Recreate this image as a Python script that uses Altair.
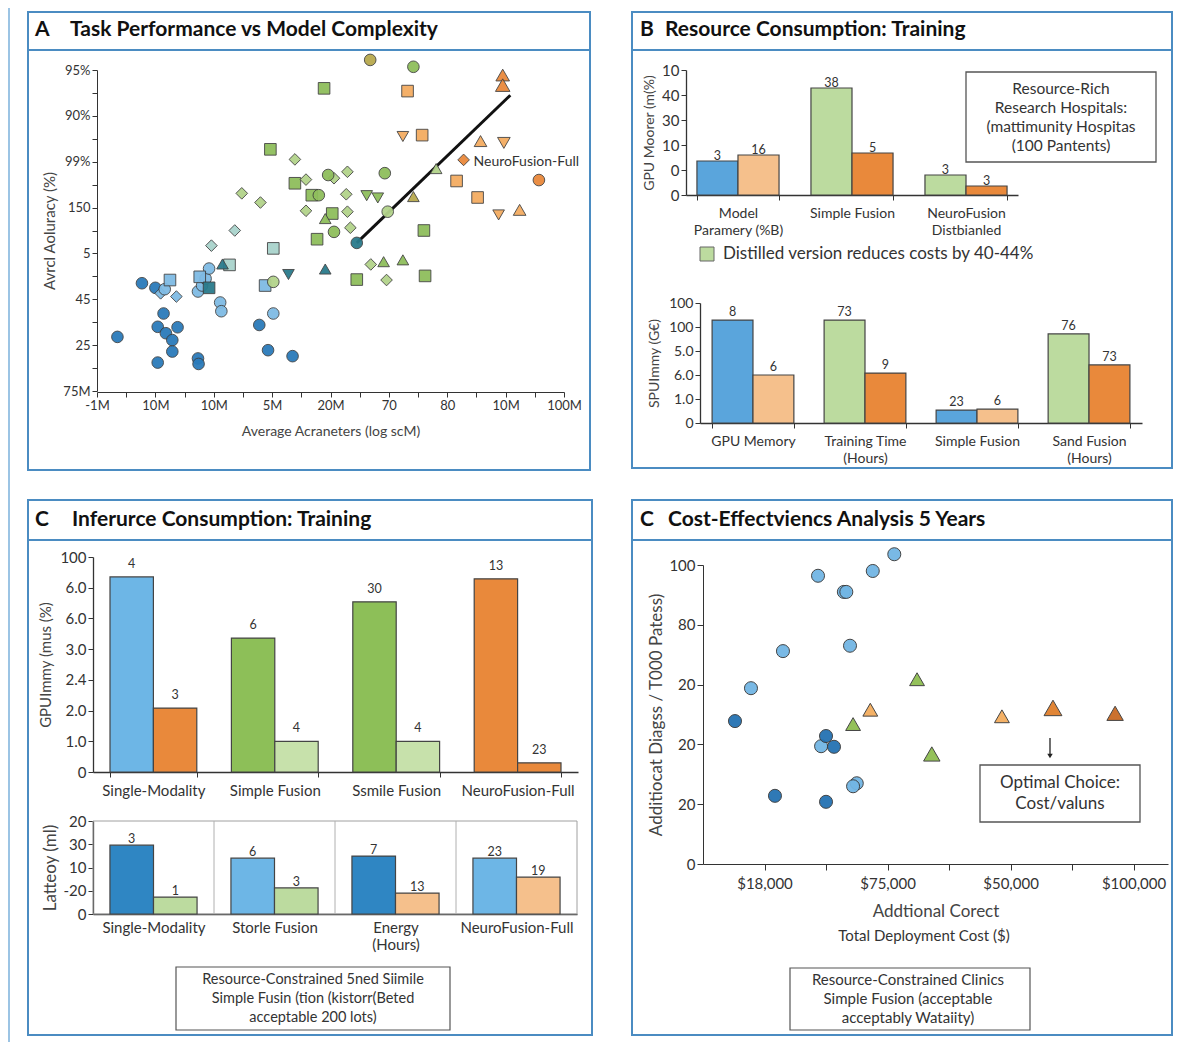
import altair as alt
import pandas as pd

W, H = 1166, 1034
FONT = "Lato"
INK = "#333333"
FRAME = "#4b8cc2"


def P(v):
    """page pixel -> chart pixel (8px page margin)"""
    return v - 8


one = pd.DataFrame({"k": [0]})

# ---------------- Panel A data ----------------
a_x = [0.35, 0.77, 1.00, 1.04, 1.14, 1.04, 1.18, 1.29, 1.38, 1.29, 1.73, 1.74, 2.78, 2.93, 3.35,
       1.09, 1.36, 1.16, 1.25, 1.73, 1.80, 1.86, 1.92, 2.11, 2.13, 3.02, 1.76, 2.88,
       3.02, 2.27, 1.96, 2.36, 3.02,
       1.92, 2.15, 3.91, 3.28, 4.45,
       3.89, 2.97, 3.39, 3.68, 3.77, 4.03, 4.45, 5.60, 5.62,
       3.39, 3.58, 3.58, 4.29, 4.27, 4.29, 4.34, 4.69, 4.96, 4.06, 2.48, 2.80,
       3.96, 4.06, 4.93, 4.98, 3.80, 5.42, 4.68,
       4.62, 4.81, 3.91, 4.91, 5.24, 5.81, 5.42,
       5.32, 5.57, 6.16, 6.52, 5.24, 6.88, 6.97, 6.95, 6.95, 6.57, 7.24, 6.28, 7.57]
a_y = [1.18, 2.35, 2.25, 1.40, 1.69, 0.62, 1.26, 1.11, 1.39, 0.86, 0.71, 0.59, 1.44, 0.89, 0.76,
       2.13, 2.06, 2.22, 2.42, 2.17, 2.30, 2.45, 2.67, 1.93, 1.74, 1.69, 2.49, 2.30,
       3.11, 2.75, 3.17, 3.50, 2.38,
       2.25, 2.77, 2.66, 2.54, 3.23,
       6.60, 5.27, 4.53, 4.27, 3.31, 3.87, 2.43, 3.50, 2.51,
       5.05, 4.61, 3.93, 4.78, 4.29, 3.91, 3.56, 2.76, 2.42, 4.64, 4.31, 4.11,
       4.71, 3.47, 4.75, 3.91, 4.27, 7.07, 7.22,
       4.26, 4.21, 3.76, 2.82, 2.86, 4.85, 4.24,
       6.54, 5.58, 4.58, 4.22, 5.55, 3.84, 5.41, 6.89, 6.67, 5.45, 3.95, 5.04, 4.60]
a_grp = ["db"] * 15 + \
        ["lb"] * 13 + \
        ["pt", "pt", "pt", "pt", "lg"] + \
        ["tl"] * 5 + \
        ["gr"] * 9 + \
        ["lg"] * 12 + \
        ["gr", "gr", "gr", "lg", "gr", "gr", "ol"] + \
        ["gr", "gr", "gr", "gr", "gr", "lg", "ol"] + \
        ["lo", "lo", "lo", "lo", "lo", "lo", "lo", "or", "or", "lo", "lo", "or", "or"]
a_shp = ["circle"] * 15 + \
        ["diamond", "diamond", "circle", "square", "circle", "circle", "circle", "circle",
         "circle", "circle", "circle", "square", "square"] + \
        ["square", "square", "diamond", "diamond", "circle"] + \
        ["square", "triangle-up", "triangle-up", "triangle-down", "circle"] + \
        ["square"] * 9 + \
        ["diamond"] * 12 + \
        ["circle"] * 7 + \
        ["triangle-down", "triangle-down", "triangle-up", "triangle-up", "triangle-up",
         "triangle-up", "triangle-up"] + \
        ["square", "square", "square", "square", "triangle-down", "triangle-down", "triangle-down",
         "triangle-up", "triangle-up", "triangle-up", "triangle-up", "diamond", "circle"]
a_sz = ["n"] * 79 + ["m", "l", "xl", "m", "m", "n", "n"]
a_line_x = [4.45, 7.08]
a_line_y = [3.23, 6.45]
a_lab_x = [6.45]
a_lab_y = [5.0]
a_lab_t = ["NeuroFusion-Full"]
a_xlabels = ["-1M", "10M", "10M", "5M", "20M", "70", "80", "10M", "100M"]
a_ylabels = ["75M", "25", "45", "5", "150", "99%", "90%", "95%"]

A_GROUPS = ["db", "lb", "pt", "tl", "gr", "lg", "ol", "lo", "or"]
A_COLORS = ["#2b7bba", "#7fbbe4", "#a9d3cc", "#2a7b8c", "#8fbe5c", "#b3d38b", "#b8a94e", "#f4ac62", "#e9893c"]
SHAPES = ["circle", "square", "diamond", "triangle-up", "triangle-down"]

# ---------------- Panel B data ----------------
b1_cats = ["Model|Paramery (%B)", "Simple Fusion", "NeuroFusion|Distbianled"]
b1_v1 = [1.36, 4.28, 0.80]
b1_v2 = [1.60, 1.68, 0.36]
b1_c1 = ["blue", "lgreen", "lgreen"]
b1_c2 = ["lorange", "orange", "orange"]
b1_t1 = ["3", "38", "3"]
b1_t2 = ["16", "5", "3"]
b1_ylabels = ["0", "0", "10", "30", "40", "10"]

b2_cats = ["GPU Memory", "Training Time|(Hours)", "Simple Fusion", "Sand Fusion|(Hours)"]
b2_v1 = [4.29, 4.29, 0.54, 3.71]
b2_v2 = [2.00, 2.08, 0.58, 2.42]
b2_c1 = ["blue", "lgreen", "blue", "lgreen"]
b2_c2 = ["lorange", "orange", "lorange", "orange"]
b2_t1 = ["8", "73", "23", "76"]
b2_t2 = ["6", "9", "6", "73"]
b2_ylabels = ["0", "1.0", "6.0", "5.0", "100", "100"]

# ---------------- Panel C data ----------------
c1_cats = ["Single-Modality", "Simple Fusion", "Ssmile Fusion", "NeuroFusion-Full"]
c1_v1 = [6.35, 4.36, 5.54, 6.29]
c1_v2 = [2.08, 1.00, 1.00, 0.30]
c1_c1 = ["lblue", "green", "green", "orange"]
c1_c2 = ["orange", "plgreen", "plgreen", "orange"]
c1_t1 = ["4", "6", "30", "13"]
c1_t2 = ["3", "4", "4", "23"]
c1_ylabels = ["0", "1.0", "2.0", "2.4", "3.0", "6.0", "6.0", "100"]

c2_cats = ["Single-Modality", "Storle Fusion", "Energy|(Hours)", "NeuroFusion-Full"]
c2_v1 = [2.96, 2.40, 2.49, 2.40]
c2_v2 = [0.73, 1.12, 0.90, 1.59]
c2_c1 = ["dblue", "lblue", "dblue", "lblue"]
c2_c2 = ["lgreen", "lgreen", "lorange", "lorange"]
c2_t1 = ["3", "6", "7", "23"]
c2_t2 = ["1", "3", "13", "19"]
c2_ylabels = ["0", "-20", "10", "30", "20"]

# ---------------- Panel D data ----------------
d_x = [1.87, 2.29, 2.33, 2.76, 3.11, 2.39, 1.30, 0.78, 1.92, 2.50, 2.44,
       0.52, 2.00, 2.13, 1.17, 2.00,
       3.48, 2.44, 3.72, 2.72, 4.86, 5.69, 6.70]
d_y = [4.82, 4.55, 4.55, 4.90, 5.18, 3.65, 3.56, 2.94, 1.97, 1.35, 1.30,
       2.39, 2.14, 1.96, 1.14, 1.04,
       3.09, 2.34, 1.84, 2.58, 2.47, 2.61, 2.52]
d_grp = ["lb"] * 11 + ["db"] * 5 + ["gr", "gr", "gr", "lo", "lo", "or", "do"]
d_shp = ["circle"] * 16 + ["triangle-up"] * 7
d_sz = ["n"] * 16 + ["m", "m", "l", "m", "m", "xl", "l"]
d_xlabels = ["$18,000", "$75,000", "$50,000", "$100,000"]
d_ylabels = ["0", "20", "20", "20", "80", "100"]
D_GROUPS = ["lb", "db", "gr", "lo", "or", "do"]
D_COLORS = ["#72b6e4", "#2472b3", "#8fbe52", "#f4ad5e", "#e07f2c", "#c96a24"]

PAL = {"blue": "#5aa5dc", "lorange": "#f5c08c", "lgreen": "#bcdb9f", "orange": "#e9893b",
       "green": "#8dbf58", "plgreen": "#c7e1ab", "lblue": "#6db6e6", "dblue": "#2f86c3"}


def js_arr(items):
    return "[" + ",".join("'" + s + "'" for s in items) + "]"


# ---------------- helpers for decorations ----------------
def rect(x0, y0, x1, y1, stroke, sw, fill="white", fo=1.0):
    return alt.Chart(one).mark_rect(stroke=stroke, strokeWidth=sw, fill=fill, fillOpacity=fo).encode(
        x=alt.value(P(x0)), x2=alt.value(P(x1)), y=alt.value(P(y0)), y2=alt.value(P(y1)))


def hrule(x0, x1, y, color, sw):
    return alt.Chart(one).mark_rule(color=color, strokeWidth=sw).encode(
        x=alt.value(P(x0)), x2=alt.value(P(x1)), y=alt.value(P(y)))


def vrule(x, y0, y1, color, sw):
    return alt.Chart(one).mark_rule(color=color, strokeWidth=sw).encode(
        x=alt.value(P(x)), y=alt.value(P(y0)), y2=alt.value(P(y1)))


def text(x, y, s, size, align="left", weight="normal", color=INK, lh=None):
    kw = dict(align=align, baseline="middle", fontSize=size, font=FONT, fontWeight=weight, color=color)
    if lh is not None:
        kw["lineHeight"] = lh
    return alt.Chart(one).mark_text(**kw).encode(x=alt.value(P(x)), y=alt.value(P(y)), text=alt.value(s))


# ---------------- bar-chart builder ----------------
def bar_chart(cats, v1, v2, c1, c2, t1, t2, ylabels, xr, yr, pad_in, pad_out,
              ytitle, ypad, ytsize, xlab_size, ylab_size, lab_dy, ticks=True):
    n = len(cats)
    df = pd.DataFrame({"cat": cats + cats, "ser": ["a"] * n + ["b"] * n,
                       "val": v1 + v2, "role": c1 + c2, "txt": t1 + t2})
    roles = sorted(set(c1 + c2))
    X = alt.X("cat:N", sort=cats, title=None,
              scale=alt.Scale(range=[P(xr[0]), P(xr[1])], paddingInner=pad_in, paddingOuter=pad_out),
              axis=alt.Axis(orient="bottom", offset=P(yr[0]) - H, labelAngle=0,
                            labelExpr="isValid(datum.value) ? split(datum.value, '|') : ''",
                            labelFontSize=xlab_size,
                            labelLineHeight=17, labelPadding=6, ticks=ticks, tickBand="extent",
                            tickSize=5, domainWidth=1.3))
    Y = alt.Y("val:Q", title=ytitle,
              scale=alt.Scale(domain=[0, len(ylabels) - 1], range=[P(yr[0]), P(yr[1])], nice=False, zero=True),
              axis=alt.Axis(orient="left", offset=-P(xr[0]), values=list(range(len(ylabels))),
                            labelExpr=js_arr(ylabels) + "[datum.value]", labelFontSize=ylab_size,
                            titleFontSize=ytsize, titlePadding=ypad, tickSize=5, domainWidth=1.3))
    XO = alt.XOffset("ser:N", scale=alt.Scale(paddingInner=0, paddingOuter=0))
    C = alt.Color("role:N", scale=alt.Scale(domain=roles, range=[PAL[r] for r in roles]), legend=None)
    bars = alt.Chart(df).mark_bar(stroke="#444444", strokeWidth=1.2).encode(x=X, xOffset=XO, y=Y, color=C)
    labs = alt.Chart(df).mark_text(baseline="bottom", dy=lab_dy, fontSize=12.5, font=FONT, color=INK).encode(
        x=X, xOffset=XO, y=Y, text="txt:N")
    return alt.layer(bars, labs)


# ---------------- Panel A ----------------
dfA = pd.DataFrame({"x": a_x, "y": a_y, "g": a_grp, "s": a_shp, "z": a_sz})
dfAl = pd.DataFrame({"x": a_line_x, "y": a_line_y})
dfAt = pd.DataFrame({"x": a_lab_x, "y": a_lab_y, "t": a_lab_t})
XA = alt.X("x:Q", title="Average Acraneters (log scM)",
           scale=alt.Scale(domain=[0, 8], range=[P(97), P(564)], nice=False, zero=False),
           axis=alt.Axis(orient="bottom", offset=P(392) - H, values=[i / 2 for i in range(17)],
                         labelExpr="datum.value % 1 == 0 ? " + js_arr(a_xlabels) + "[datum.value] : ''",
                         labelFontSize=13, titleFontSize=14, titlePadding=12, labelFlush=False,
                         labelOverlap=False, tickSize=5))
YA = alt.Y("y:Q", title="Avrcl Aoluracy (%)",
           scale=alt.Scale(domain=[0, 7], range=[P(391), P(70)], nice=False, zero=False),
           axis=alt.Axis(orient="left", offset=-P(97), values=[i / 2 for i in range(15)],
                         labelExpr="datum.value % 1 == 0 ? " + js_arr(a_ylabels) + "[datum.value] : ''",
                         labelFontSize=13, titleFontSize=15, titlePadding=5, labelFlush=False,
                         labelOverlap=False, tickSize=5))
ptsA = alt.Chart(dfA).mark_point(filled=True, stroke="#3c3c3c", strokeWidth=0.9, opacity=0.95).encode(
    x=XA, y=YA,
    color=alt.Color("g:N", scale=alt.Scale(domain=A_GROUPS, range=A_COLORS), legend=None),
    shape=alt.Shape("s:N", scale=alt.Scale(domain=SHAPES, range=SHAPES), legend=None),
    size=alt.Size("z:N", scale=alt.Scale(domain=["n", "m", "l", "xl"], range=[135, 210, 340, 430]), legend=None))
lineA = alt.Chart(dfAl).mark_line(color="#111111", strokeWidth=3).encode(x=XA, y=YA)
labA = alt.Chart(dfAt).mark_text(align="left", baseline="middle", fontSize=14, font=FONT, color=INK).encode(
    x=XA, y=YA, text="t:N")
panelA = alt.layer(lineA, ptsA, labA)

# ---------------- Panel B ----------------
panelB1 = bar_chart(b1_cats, b1_v1, b1_v2, b1_c1, b1_c2, b1_t1, b1_t2, b1_ylabels,
                    (686, 1018), (195, 70), 0.28, 0.096, "GPU Moorer (m(%)", 5, 14, 14, 15, 2)
panelB2 = bar_chart(b2_cats, b2_v1, b2_v2, b2_c1, b2_c2, b2_t1, b2_t2, b2_ylabels,
                    (700, 1142), (423, 303), 0.27, 0.108, "SPUImmy (G€)", 7, 14, 14, 14, -1)

# ---------------- Panel C ----------------
panelC1 = bar_chart(c1_cats, c1_v1, c1_v2, c1_c1, c1_c2, c1_t1, c1_t2, c1_ylabels,
                    (93, 578), (772, 557), 0.285, 0.14, "GPUImmy (mus (%)", 6, 15, 15, 15, -6)
panelC2 = bar_chart(c2_cats, c2_v1, c2_v2, c2_c1, c2_c2, c2_t1, c2_t2, c2_ylabels,
                    (93, 577), (914, 821), 0.28, 0.14, "Latteoy (ml)", 4, 17, 15, 15, 1, ticks=False)
# separators of the boxed lower chart, derived from its band layout
c2_step = (577 - 93) / (len(c2_cats) - 0.28 + 2 * 0.14)
c2_seps = [93 + 0.14 * c2_step + (i + 1) * c2_step - 0.28 * c2_step / 2 for i in range(len(c2_cats) - 1)]

# ---------------- Panel D ----------------
dfD = pd.DataFrame({"x": d_x, "y": d_y, "g": d_grp, "s": d_shp, "z": d_sz})
XD = alt.X("x:Q", title="Addtional Corect",
           scale=alt.Scale(domain=[0, 7.56], range=[P(703), P(1168)], nice=False, zero=False),
           axis=alt.Axis(orient="bottom", offset=P(864) - H, values=[1, 2, 3, 4, 5, 6, 7],
                         labelExpr="datum.value % 2 == 1 ? " + js_arr(d_xlabels) + "[(datum.value-1)/2] : ''",
                         labelFontSize=15, titleFontSize=17, titlePadding=12, labelFlush=False,
                         labelOverlap=False, tickSize=6, labelPadding=6))
YD = alt.Y("y:Q", title="Additiocat  Diagss / T000 Patess)",
           scale=alt.Scale(domain=[0, 5], range=[P(864), P(565)], nice=False, zero=False),
           axis=alt.Axis(orient="left", offset=-P(703), values=[0, 1, 2, 3, 4, 5],
                         labelExpr=js_arr(d_ylabels) + "[datum.value]",
                         labelFontSize=15, titleFontSize=17, titlePadding=3, labelFlush=False,
                         labelOverlap=False, tickSize=6))
ptsD = alt.Chart(dfD).mark_point(filled=True, stroke="#3c3c3c", strokeWidth=1, opacity=0.95).encode(
    x=XD, y=YD,
    color=alt.Color("g:N", scale=alt.Scale(domain=D_GROUPS, range=D_COLORS), legend=None),
    shape=alt.Shape("s:N", scale=alt.Scale(domain=SHAPES, range=SHAPES), legend=None),
    size=alt.Size("z:N", scale=alt.Scale(domain=["n", "m", "l", "xl"], range=[170, 320, 560, 820]), legend=None))
panelD = alt.layer(ptsD)

# ---------------- decorations ----------------
TITLE_C = "#111111"
deco = [
    vrule(9, 8, 1042, "#9cc4e4", 2),
    rect(28, 12, 590, 470, FRAME, 2, fo=0),
    rect(632, 12, 1172, 468, FRAME, 2, fo=0),
    rect(28, 500, 592, 1035, FRAME, 2, fo=0),
    rect(632, 500, 1172, 1035, FRAME, 2, fo=0),
    hrule(28, 590, 50, FRAME, 2),
    hrule(632, 1172, 50, FRAME, 2),
    hrule(28, 592, 540, FRAME, 2),
    hrule(632, 1172, 540, FRAME, 2),
    text(35, 30, "A", 21, weight="bold", color=TITLE_C),
    text(70, 30, "Task Performance vs Model Complexity", 21, weight="bold", color=TITLE_C),
    text(640, 30, "B", 21, weight="bold", color=TITLE_C),
    text(665, 30, "Resource Consumption: Training", 21, weight="bold", color=TITLE_C),
    text(35, 520, "C", 21, weight="bold", color=TITLE_C),
    text(72, 520, "Inferurce Consumption: Training", 21, weight="bold", color=TITLE_C),
    text(640, 520, "C", 21, weight="bold", color=TITLE_C),
    text(668, 520, "Cost-Effectviencs Analysis 5 Years", 21, weight="bold", color=TITLE_C),
    # panel B annotations
    rect(966, 72, 1156, 162, "#555555", 1.3),
    text(1061, 89, ["Resource-Rich", "Research Hospitals:", "(mattimunity Hospitas", "(100 Pantents)"],
         15.5, align="center", lh=19),
    rect(700, 247, 714, 261, "#666666", 1, fill=PAL["lgreen"]),
    text(723, 254, "Distilled version reduces costs by 40-44%", 17),
    # panel C lower chart box
    rect(93, 821, 577, 914, "#a0a0a0", 1, fo=0),
] + [vrule(s, 821, 914, "#b0b0b0", 1) for s in c2_seps] + [
    rect(176, 967, 450, 1030, "#555555", 1.2),
    text(313, 980, ["Resource-Constrained 5ned Siimile", "Simple Fusin (tion (kistorr(Beted",
                    "acceptable 200 lots)"], 14.5, align="center", lh=19),
    # panel D annotations
    text(924, 936, "Total Deployment Cost ($)", 15, align="center"),
    vrule(1050, 738, 754, "#222222", 1.3),
    rect(980, 765, 1140, 822, "#555555", 1.3),
    text(1060, 783, ["Optimal Choice:", "Cost/valuns"], 17, align="center", lh=21),
    rect(790, 968, 1030, 1030, "#555555", 1.2),
    text(908, 980, ["Resource-Constrained Clinics", "Simple Fusion (acceptable", "acceptably Wataiity)"],
         15, align="center", lh=19),
]
arrow_head = alt.Chart(one).mark_point(shape="triangle-down", filled=True, color="#222222", size=30,
                                       opacity=1).encode(x=alt.value(P(1050)), y=alt.value(P(756)))
deco.append(arrow_head)

layers = deco + [panelA, panelB1, panelB2, panelC1, panelC2, panelD]

chart = alt.layer(*layers).resolve_scale(
    x="independent", y="independent", color="independent", shape="independent",
    size="independent", xOffset="independent"
).resolve_axis(x="independent", y="independent").properties(
    width=W, height=H, padding=0, autosize=alt.AutoSizeParams(type="none")
).configure_view(stroke=None).configure_axis(
    grid=False, domainColor="#333333", tickColor="#333333", labelColor="#333333",
    titleColor="#444444", labelFont=FONT, titleFont=FONT, titleFontWeight="normal"
).configure_text(font=FONT)

chart.save("out.html", embed_options={"renderer": "svg", "actions": False})
